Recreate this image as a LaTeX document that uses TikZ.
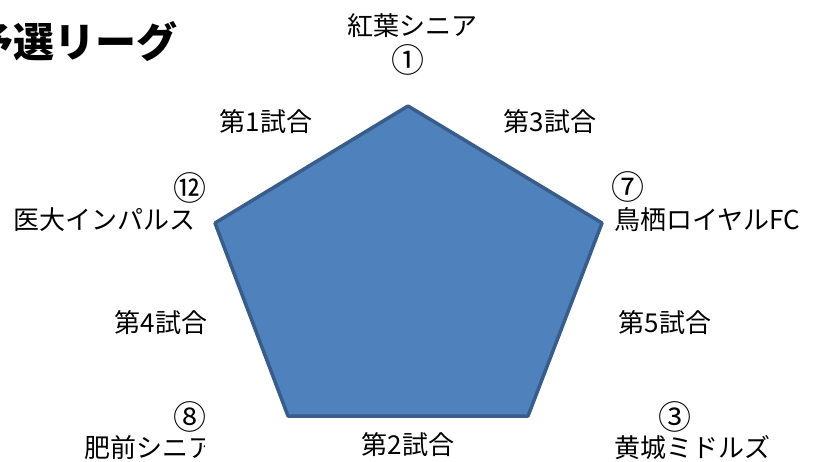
\documentclass[tikz,border=0pt]{standalone}
\usepackage{fontspec}
\setmainfont{Noto Sans CJK JP}
\definecolor{pentfill}{HTML}{4F81BD}
\definecolor{pentline}{HTML}{385D8A}
\begin{document}
\begin{tikzpicture}[x=1pt,y=-1pt,
  lbl/.style={inner sep=0pt,font=\fontsize{26}{28}\selectfont},
  num/.style={inner sep=0pt,font=\fontsize{33}{35}\selectfont},
  ttl/.style={inner sep=0pt,font=\fontsize{41}{44}\selectfont\bfseries}]
\useasboundingbox (0,0) rectangle (818,461);
% pentagon
\coordinate (pt) at (408,106);
\coordinate (pl) at (215,223);
\coordinate (pr) at (602,223);
\coordinate (pbl) at (288,416);
\coordinate (pbr) at (528,416);
\draw[line width=3.5pt,line join=round,draw=pentline,fill=pentfill]
  (pt) -- (pr) -- (pbr) -- (pbl) -- (pl) -- cycle;
% title
\node[ttl,anchor=east] (title) at (178,42) {予選リーグ};
% team labels
\node[lbl] (t1) at (412,26) {紅葉シニア};
\node[num] (n1) at (408,60) {①};
\node[num] (n12) at (190,188) {⑫};
\node[lbl,anchor=west] (t12) at (13,220) {医大インパルス};
\node[num] (n7) at (628,187) {⑦};
\node[lbl,anchor=west] (t7) at (614,220) {鳥栖ロイヤルFC};
\node[num] (n8) at (190,417) {⑧};
\begin{scope}
\clip (0,430) rectangle (204,461);
\node[lbl,anchor=west] (t8) at (84,448) {肥前シニア};
\end{scope}
\node[num] (n3) at (675,417) {③};
\node[lbl,anchor=west] (t3) at (614,448) {黄城ミドルズ};
% match labels
\node[lbl] (m1) at (266,122) {第1試合};
\node[lbl] (m3) at (550,122) {第3試合};
\node[lbl] (m4) at (161,323) {第4試合};
\node[lbl] (m5) at (665,323) {第5試合};
\node[lbl] (m2) at (408,445) {第2試合};
\end{tikzpicture}
\end{document}
